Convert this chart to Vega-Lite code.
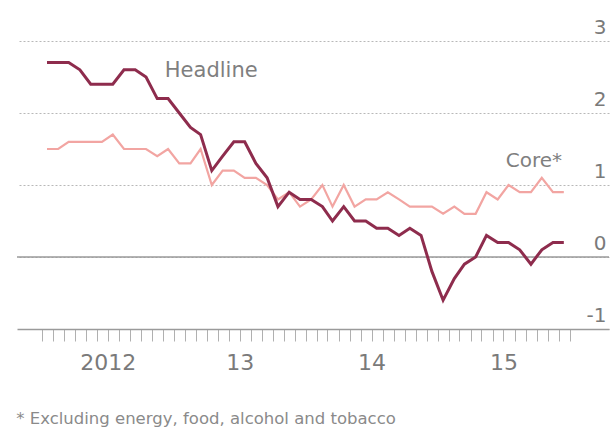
{
  "$schema": "https://vega.github.io/schema/vega-lite/v6.json",
  "width": 592,
  "height": 288,
  "autosize": "none",
  "padding": {"left": 17, "top": 41, "right": 5, "bottom": 101},
  "background": "white",
  "config": {"view": {"stroke": null}, "font": "DejaVu Sans"},
  "title": {
    "text": "* Excluding energy, food, alcohol and tobacco",
    "orient": "bottom",
    "anchor": "start",
    "offset": 38,
    "fontSize": 16.5,
    "fontWeight": "normal",
    "color": "#8a8a8a",
    "font": "DejaVu Sans"
  },
  "layer": [
    {
      "data": {"values": [{}]},
      "mark": {"type": "rule", "color": "#9a9a9a", "strokeWidth": 1.5},
      "encoding": {"y": {"datum": 0, "type": "quantitative"}}
    },
    {
      "data": {
        "values": [
          {"date": "2012-01-15", "Headline": 2.7, "Core": 1.5},
          {"date": "2012-02-15", "Headline": 2.7, "Core": 1.5},
          {"date": "2012-03-15", "Headline": 2.7, "Core": 1.6},
          {"date": "2012-04-15", "Headline": 2.6, "Core": 1.6},
          {"date": "2012-05-15", "Headline": 2.4, "Core": 1.6},
          {"date": "2012-06-15", "Headline": 2.4, "Core": 1.6},
          {"date": "2012-07-15", "Headline": 2.4, "Core": 1.7},
          {"date": "2012-08-15", "Headline": 2.6, "Core": 1.5},
          {"date": "2012-09-15", "Headline": 2.6, "Core": 1.5},
          {"date": "2012-10-15", "Headline": 2.5, "Core": 1.5},
          {"date": "2012-11-15", "Headline": 2.2, "Core": 1.4},
          {"date": "2012-12-15", "Headline": 2.2, "Core": 1.5},
          {"date": "2013-01-15", "Headline": 2.0, "Core": 1.3},
          {"date": "2013-02-15", "Headline": 1.8, "Core": 1.3},
          {"date": "2013-03-15", "Headline": 1.7, "Core": 1.5},
          {"date": "2013-04-15", "Headline": 1.2, "Core": 1.0},
          {"date": "2013-05-15", "Headline": 1.4, "Core": 1.2},
          {"date": "2013-06-15", "Headline": 1.6, "Core": 1.2},
          {"date": "2013-07-15", "Headline": 1.6, "Core": 1.1},
          {"date": "2013-08-15", "Headline": 1.3, "Core": 1.1},
          {"date": "2013-09-15", "Headline": 1.1, "Core": 1.0},
          {"date": "2013-10-15", "Headline": 0.7, "Core": 0.8},
          {"date": "2013-11-15", "Headline": 0.9, "Core": 0.9},
          {"date": "2013-12-15", "Headline": 0.8, "Core": 0.7},
          {"date": "2014-01-15", "Headline": 0.8, "Core": 0.8},
          {"date": "2014-02-15", "Headline": 0.7, "Core": 1.0},
          {"date": "2014-03-15", "Headline": 0.5, "Core": 0.7},
          {"date": "2014-04-15", "Headline": 0.7, "Core": 1.0},
          {"date": "2014-05-15", "Headline": 0.5, "Core": 0.7},
          {"date": "2014-06-15", "Headline": 0.5, "Core": 0.8},
          {"date": "2014-07-15", "Headline": 0.4, "Core": 0.8},
          {"date": "2014-08-15", "Headline": 0.4, "Core": 0.9},
          {"date": "2014-09-15", "Headline": 0.3, "Core": 0.8},
          {"date": "2014-10-15", "Headline": 0.4, "Core": 0.7},
          {"date": "2014-11-15", "Headline": 0.3, "Core": 0.7},
          {"date": "2014-12-15", "Headline": -0.2, "Core": 0.7},
          {"date": "2015-01-15", "Headline": -0.6, "Core": 0.6},
          {"date": "2015-02-15", "Headline": -0.3, "Core": 0.7},
          {"date": "2015-03-15", "Headline": -0.1, "Core": 0.6},
          {"date": "2015-04-15", "Headline": 0.0, "Core": 0.6},
          {"date": "2015-05-15", "Headline": 0.3, "Core": 0.9},
          {"date": "2015-06-15", "Headline": 0.2, "Core": 0.8},
          {"date": "2015-07-15", "Headline": 0.2, "Core": 1.0},
          {"date": "2015-08-15", "Headline": 0.1, "Core": 0.9},
          {"date": "2015-09-15", "Headline": -0.1, "Core": 0.9},
          {"date": "2015-10-15", "Headline": 0.1, "Core": 1.1},
          {"date": "2015-11-15", "Headline": 0.2, "Core": 0.9},
          {"date": "2015-12-15", "Headline": 0.2, "Core": 0.9}
        ]
      },
      "layer": [
        {
          "mark": {"type": "line", "color": "#f2a5a2", "strokeWidth": 2.2},
          "encoding": {
            "x": {
              "field": "date",
              "type": "temporal",
              "scale": {
                "type": "utc",
                "domain": [
                  {"year": 2011, "month": 10, "date": 24, "utc": true},
                  {"year": 2016, "month": 4, "date": 18, "utc": true}
                ]
              },
              "axis": {
                "title": null,
                "tickCount": 100,
                "values": [
                  {"year": 2012, "month": 1, "date": 1, "utc": true},
                  {"year": 2012, "month": 2, "date": 1, "utc": true},
                  {"year": 2012, "month": 3, "date": 1, "utc": true},
                  {"year": 2012, "month": 4, "date": 1, "utc": true},
                  {"year": 2012, "month": 5, "date": 1, "utc": true},
                  {"year": 2012, "month": 6, "date": 1, "utc": true},
                  {"year": 2012, "month": 7, "date": 1, "utc": true},
                  {"year": 2012, "month": 8, "date": 1, "utc": true},
                  {"year": 2012, "month": 9, "date": 1, "utc": true},
                  {"year": 2012, "month": 10, "date": 1, "utc": true},
                  {"year": 2012, "month": 11, "date": 1, "utc": true},
                  {"year": 2012, "month": 12, "date": 1, "utc": true},
                  {"year": 2013, "month": 1, "date": 1, "utc": true},
                  {"year": 2013, "month": 2, "date": 1, "utc": true},
                  {"year": 2013, "month": 3, "date": 1, "utc": true},
                  {"year": 2013, "month": 4, "date": 1, "utc": true},
                  {"year": 2013, "month": 5, "date": 1, "utc": true},
                  {"year": 2013, "month": 6, "date": 1, "utc": true},
                  {"year": 2013, "month": 7, "date": 1, "utc": true},
                  {"year": 2013, "month": 8, "date": 1, "utc": true},
                  {"year": 2013, "month": 9, "date": 1, "utc": true},
                  {"year": 2013, "month": 10, "date": 1, "utc": true},
                  {"year": 2013, "month": 11, "date": 1, "utc": true},
                  {"year": 2013, "month": 12, "date": 1, "utc": true},
                  {"year": 2014, "month": 1, "date": 1, "utc": true},
                  {"year": 2014, "month": 2, "date": 1, "utc": true},
                  {"year": 2014, "month": 3, "date": 1, "utc": true},
                  {"year": 2014, "month": 4, "date": 1, "utc": true},
                  {"year": 2014, "month": 5, "date": 1, "utc": true},
                  {"year": 2014, "month": 6, "date": 1, "utc": true},
                  {"year": 2014, "month": 7, "date": 1, "utc": true},
                  {"year": 2014, "month": 8, "date": 1, "utc": true},
                  {"year": 2014, "month": 9, "date": 1, "utc": true},
                  {"year": 2014, "month": 10, "date": 1, "utc": true},
                  {"year": 2014, "month": 11, "date": 1, "utc": true},
                  {"year": 2014, "month": 12, "date": 1, "utc": true},
                  {"year": 2015, "month": 1, "date": 1, "utc": true},
                  {"year": 2015, "month": 2, "date": 1, "utc": true},
                  {"year": 2015, "month": 3, "date": 1, "utc": true},
                  {"year": 2015, "month": 4, "date": 1, "utc": true},
                  {"year": 2015, "month": 5, "date": 1, "utc": true},
                  {"year": 2015, "month": 6, "date": 1, "utc": true},
                  {"year": 2015, "month": 7, "date": 1, "utc": true},
                  {"year": 2015, "month": 8, "date": 1, "utc": true},
                  {"year": 2015, "month": 9, "date": 1, "utc": true},
                  {"year": 2015, "month": 10, "date": 1, "utc": true},
                  {"year": 2015, "month": 11, "date": 1, "utc": true},
                  {"year": 2015, "month": 12, "date": 1, "utc": true},
                  {"year": 2016, "month": 1, "date": 1, "utc": true}
                ],
                "labelExpr": "utcmonth(datum.value) == 6 ? (utcyear(datum.value) == 2012 ? '2012' : substring(toString(utcyear(datum.value)), 2)) : ''",
                "labelOverlap": false,
                "labelFlush": false,
                "labelBound": false,
                "labelAngle": 0,
                "labelAlign": "center",
                "labelFontSize": 22,
                "labelFont": "DejaVu Sans",
                "labelColor": "#7a7a7a",
                "labelPadding": 11,
                "grid": false,
                "domain": true,
                "domainColor": "#9a9a9a",
                "domainWidth": 1.5,
                "ticks": true,
                "tickColor": "#b0b0b0",
                "tickWidth": 1,
                "tickSize": 12
              }
            },
            "y": {
              "field": "Core",
              "type": "quantitative",
              "scale": {"domain": [-1, 3], "nice": false, "zero": false},
              "axis": {
                "title": null,
                "orient": "right",
                "values": [-1, 0, 1, 2, 3],
                "tickCount": 10,
                "domain": false,
                "ticks": false,
                "tickSize": 0,
                "grid": true,
                "gridColor": "#b8b8b8",
                "gridDash": [2, 2],
                "gridWidth": 1,
                "labelAlign": "right",
                "labelBaseline": "alphabetic",
                "labelOffset": -8,
                "labelPadding": -3,
                "labelFontSize": 20,
                "labelFont": "DejaVu Sans",
                "labelColor": "#7a7a7a",
                "labelExpr": "datum.value < 0 ? '-' + toString(abs(datum.value)) : toString(datum.value)"
              }
            }
          }
        },
        {
          "mark": {"type": "line", "color": "#8e2c4d", "strokeWidth": 3},
          "encoding": {
            "x": {"field": "date", "type": "temporal"},
            "y": {"field": "Headline", "type": "quantitative"}
          }
        }
      ]
    },
    {
      "data": {"values": [{}]},
      "mark": {"type": "text", "align": "left", "baseline": "alphabetic", "fontSize": 21, "color": "#7f7f7f", "font": "DejaVu Sans"},
      "encoding": {
        "x": {"datum": {"year": 2012, "month": 12, "date": 6, "utc": true}, "type": "temporal"},
        "y": {"datum": 2.5, "type": "quantitative"},
        "text": {"value": "Headline"}
      }
    },
    {
      "data": {"values": [{}]},
      "mark": {"type": "text", "align": "right", "baseline": "alphabetic", "fontSize": 20, "color": "#7f7f7f", "font": "DejaVu Sans"},
      "encoding": {
        "x": {"datum": {"year": 2015, "month": 12, "date": 10, "utc": true}, "type": "temporal"},
        "y": {"datum": 1.25, "type": "quantitative"},
        "text": {"value": "Core*"}
      }
    }
  ]
}
